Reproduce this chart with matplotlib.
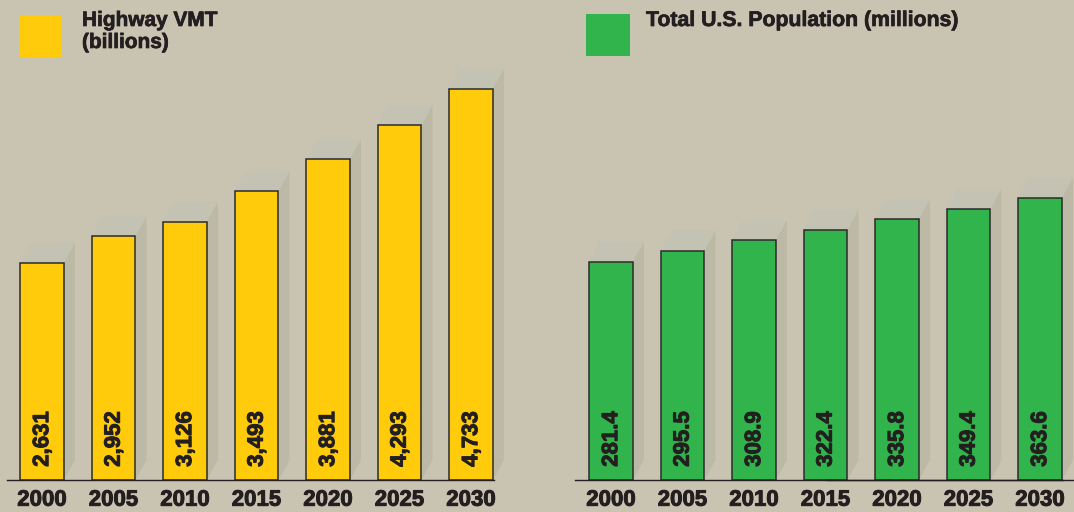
import matplotlib.pyplot as plt
import matplotlib.patheffects as pe
from matplotlib.patches import Polygon, Rectangle

years = ['2000', '2005', '2010', '2015', '2020', '2025', '2030']
vmt = [2631, 2952, 3126, 3493, 3881, 4293, 4733]
vmt_labels = ['2,631', '2,952', '3,126', '3,493', '3,881', '4,293', '4,733']
pop = [281.4, 295.5, 308.9, 322.4, 335.8, 349.4, 363.6]
pop_labels = ['281.4', '295.5', '308.9', '322.4', '335.8', '349.4', '363.6']

BG = '#c9c3b1'
TOP = '#c4c3b3'
SIDE = '#bcbaa6'
INK = '#231f20'
W, H = 1074, 512
plt.rcParams['font.family'] = ['Liberation Sans', 'DejaVu Sans']
heavy = [pe.withStroke(linewidth=0.7, foreground=INK)]

fig = plt.figure(figsize=(W / 100, H / 100), dpi=100, facecolor=BG)

step = 71.5   # pixels between bar centres
bw = 0.615    # bar width in category units


def panel(left_px, width_px, first_center_px, line_start_px, vals, labels,
          ymax, color):
    ax = fig.add_axes([left_px / W, 32 / H, width_px / W, 480 / H])
    ax.set_facecolor(BG)
    xmin = -(first_center_px - left_px) / step
    ax.set_xlim(xmin, xmin + width_px / step)
    ax.set_ylim(0, ymax)
    ax.axis('off')
    # offsets of the fake 3d depth, in data units
    dx = 11 / step
    dy = 20 * ymax / 480
    x = list(range(len(vals)))
    for i, v in zip(x, vals):
        x0, x1 = i - bw / 2, i + bw / 2
        ax.add_patch(Polygon([(x0, v), (x0 + dx, v + dy), (x1 + dx, v + dy), (x1, v)],
                             closed=True, facecolor=TOP, edgecolor='none', zorder=1))
        ax.add_patch(Polygon([(x1, v), (x1 + dx, v + dy), (x1 + dx, dy), (x1, 0)],
                             closed=True, facecolor=SIDE, edgecolor='none', zorder=1))
    ax.bar(x, vals, width=bw, color=color, edgecolor='#2b2b2b', linewidth=1.1, zorder=2)
    line_x0 = (line_start_px - first_center_px) / step
    ax.plot([line_x0, len(vals) - 1 + bw / 2 + 0.02], [0, 0], color=INK, lw=1.0,
            zorder=3, clip_on=False)
    for i, lab in zip(x, labels):
        ax.annotate(lab, (i, 0), xytext=(0.5, 9.5), textcoords='offset points',
                    rotation=90, ha='center', va='bottom', fontsize=16,
                    fontweight='bold', color=INK, zorder=4, path_effects=heavy)
    for i, yr in zip(x, years):
        ax.annotate(yr, (i, 0), xytext=(0, -18.5), textcoords='offset points',
                    ha='center', va='baseline', fontsize=16, fontweight='bold',
                    color=INK, annotation_clip=False, path_effects=heavy)
    return ax


panel(0, 540, 42, 7, vmt, vmt_labels, 480 / 0.0826, '#ffcb0a')
ax2 = panel(540, 534, 611, 575, pop, pop_labels, 480 / 0.776, '#31b44b')
ax2.plot([3, 7], [0, 0], color=INK, lw=1.0, zorder=3, clip_on=False)

# legend squares and titles
fig.patches.append(Rectangle((20 / W, 1 - 57 / H), 42 / W, 42 / H,
                             transform=fig.transFigure, facecolor='#ffcb0a', edgecolor='none'))
fig.patches.append(Rectangle((586 / W, 1 - 56 / H), 44 / W, 42 / H,
                             transform=fig.transFigure, facecolor='#31b44b', edgecolor='none'))
fig.text(82 / W, 1 - 11 / H, 'Highway VMT\n(billions)', ha='left', va='top',
         fontsize=15, fontweight='bold', color=INK, linespacing=1.2,
         path_effects=[pe.withStroke(linewidth=0.5, foreground=INK)])
fig.text(646 / W, 1 - 11 / H, 'Total U.S. Population (millions)', ha='left', va='top',
         fontsize=15.3, fontweight='bold', color=INK,
         path_effects=[pe.withStroke(linewidth=0.5, foreground=INK)])

fig.savefig('out.png', dpi=100, facecolor=BG)
